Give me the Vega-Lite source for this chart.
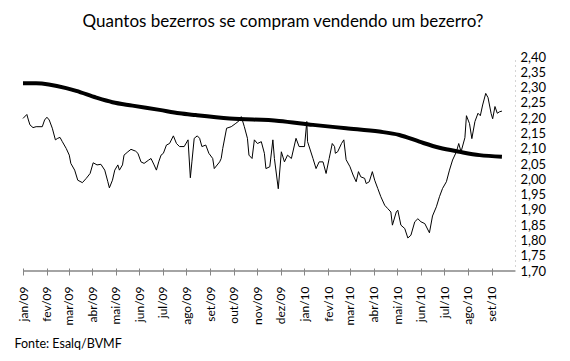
{
  "$schema": "https://vega.github.io/schema/vega-lite/v6.json",
  "width": 492,
  "height": 214,
  "padding": {"left": 14, "top": 13, "right": 5, "bottom": 5},
  "background": "white",
  "title": {"text": "Quantos bezerros se compram vendendo um bezerro?", "font": "Lato", "fontSize": 17, "fontWeight": "normal", "color": "black", "anchor": "middle", "dx": 14, "offset": 20},
  "config": {"view": {"stroke": null}, "font": "Lato"},
  "datasets": {
    "diario": [
      {"d":"2009-01-01","v":2.199},{"d":"2009-01-06","v":2.212},{"d":"2009-01-08","v":2.194},{"d":"2009-01-10","v":2.178},{"d":"2009-01-14","v":2.169},{"d":"2009-01-18","v":2.172},{"d":"2009-01-26","v":2.172},{"d":"2009-01-29","v":2.194},{"d":"2009-02-01","v":2.203},{"d":"2009-02-04","v":2.194},{"d":"2009-02-08","v":2.167},{"d":"2009-02-12","v":2.129},{"d":"2009-02-15","v":2.134},{"d":"2009-02-18","v":2.137},{"d":"2009-02-21","v":2.123},{"d":"2009-02-26","v":2.101},{"d":"2009-03-02","v":2.079},{"d":"2009-03-04","v":2.052},{"d":"2009-03-09","v":2.030},{"d":"2009-03-13","v":1.997},{"d":"2009-03-19","v":1.989},{"d":"2009-03-24","v":2.003},{"d":"2009-03-29","v":2.019},{"d":"2009-04-02","v":2.054},{"d":"2009-04-07","v":2.047},{"d":"2009-04-12","v":2.049},{"d":"2009-04-17","v":2.030},{"d":"2009-04-21","v":1.992},{"d":"2009-04-23","v":1.972},{"d":"2009-04-27","v":1.997},{"d":"2009-04-30","v":2.030},{"d":"2009-05-04","v":2.047},{"d":"2009-05-06","v":2.030},{"d":"2009-05-10","v":2.047},{"d":"2009-05-12","v":2.079},{"d":"2009-05-17","v":2.090},{"d":"2009-05-21","v":2.098},{"d":"2009-05-27","v":2.092},{"d":"2009-05-30","v":2.085},{"d":"2009-06-03","v":2.057},{"d":"2009-06-07","v":2.052},{"d":"2009-06-13","v":2.063},{"d":"2009-06-16","v":2.068},{"d":"2009-06-20","v":2.047},{"d":"2009-06-23","v":2.030},{"d":"2009-06-26","v":2.057},{"d":"2009-06-29","v":2.079},{"d":"2009-07-02","v":2.085},{"d":"2009-07-06","v":2.112},{"d":"2009-07-10","v":2.117},{"d":"2009-07-15","v":2.142},{"d":"2009-07-19","v":2.117},{"d":"2009-07-23","v":2.107},{"d":"2009-07-29","v":2.107},{"d":"2009-08-03","v":2.129},{"d":"2009-08-06","v":2.005},{"d":"2009-08-08","v":2.057},{"d":"2009-08-11","v":2.134},{"d":"2009-08-15","v":2.142},{"d":"2009-08-18","v":2.134},{"d":"2009-08-21","v":2.107},{"d":"2009-08-26","v":2.112},{"d":"2009-08-30","v":2.085},{"d":"2009-09-04","v":2.068},{"d":"2009-09-06","v":2.035},{"d":"2009-09-13","v":2.057},{"d":"2009-09-15","v":2.068},{"d":"2009-09-17","v":2.101},{"d":"2009-09-22","v":2.167},{"d":"2009-09-28","v":2.172},{"d":"2009-10-04","v":2.183},{"d":"2009-10-08","v":2.191},{"d":"2009-10-11","v":2.205},{"d":"2009-10-15","v":2.172},{"d":"2009-10-19","v":2.134},{"d":"2009-10-21","v":2.079},{"d":"2009-10-25","v":2.068},{"d":"2009-10-28","v":2.129},{"d":"2009-11-01","v":2.117},{"d":"2009-11-06","v":2.123},{"d":"2009-11-10","v":2.085},{"d":"2009-11-12","v":2.035},{"d":"2009-11-17","v":2.041},{"d":"2009-11-21","v":2.129},{"d":"2009-11-23","v":2.068},{"d":"2009-11-28","v":1.969},{"d":"2009-12-02","v":2.090},{"d":"2009-12-06","v":2.057},{"d":"2009-12-10","v":2.079},{"d":"2009-12-15","v":2.068},{"d":"2009-12-19","v":2.112},{"d":"2009-12-21","v":2.134},{"d":"2009-12-25","v":2.107},{"d":"2010-01-01","v":2.107},{"d":"2010-01-04","v":2.189},{"d":"2010-01-05","v":2.123},{"d":"2010-01-12","v":2.068},{"d":"2010-01-16","v":2.035},{"d":"2010-01-20","v":2.057},{"d":"2010-01-25","v":2.057},{"d":"2010-01-29","v":2.019},{"d":"2010-02-02","v":2.068},{"d":"2010-02-06","v":2.117},{"d":"2010-02-09","v":2.107},{"d":"2010-02-10","v":2.085},{"d":"2010-02-13","v":2.090},{"d":"2010-02-18","v":2.117},{"d":"2010-02-21","v":2.129},{"d":"2010-02-24","v":2.064},{"d":"2010-03-01","v":2.041},{"d":"2010-03-05","v":2.014},{"d":"2010-03-09","v":1.992},{"d":"2010-03-12","v":2.025},{"d":"2010-03-15","v":2.008},{"d":"2010-03-20","v":2.003},{"d":"2010-03-22","v":1.986},{"d":"2010-03-26","v":1.992},{"d":"2010-03-30","v":2.025},{"d":"2010-04-02","v":1.997},{"d":"2010-04-06","v":1.970},{"d":"2010-04-10","v":1.943},{"d":"2010-04-15","v":1.915},{"d":"2010-04-19","v":1.904},{"d":"2010-04-23","v":1.893},{"d":"2010-04-25","v":1.850},{"d":"2010-04-30","v":1.893},{"d":"2010-05-02","v":1.899},{"d":"2010-05-06","v":1.850},{"d":"2010-05-11","v":1.839},{"d":"2010-05-15","v":1.808},{"d":"2010-05-19","v":1.817},{"d":"2010-05-24","v":1.861},{"d":"2010-05-28","v":1.871},{"d":"2010-06-01","v":1.861},{"d":"2010-06-06","v":1.855},{"d":"2010-06-12","v":1.825},{"d":"2010-06-16","v":1.880},{"d":"2010-06-21","v":1.910},{"d":"2010-06-25","v":1.943},{"d":"2010-06-29","v":1.970},{"d":"2010-07-04","v":1.992},{"d":"2010-07-08","v":2.030},{"d":"2010-07-12","v":2.063},{"d":"2010-07-17","v":2.090},{"d":"2010-07-20","v":2.117},{"d":"2010-07-23","v":2.090},{"d":"2010-07-28","v":2.136},{"d":"2010-07-30","v":2.208},{"d":"2010-08-03","v":2.182},{"d":"2010-08-06","v":2.133},{"d":"2010-08-10","v":2.189},{"d":"2010-08-14","v":2.216},{"d":"2010-08-17","v":2.208},{"d":"2010-08-20","v":2.243},{"d":"2010-08-24","v":2.281},{"d":"2010-08-27","v":2.267},{"d":"2010-08-31","v":2.215},{"d":"2010-09-02","v":2.198},{"d":"2010-09-05","v":2.238},{"d":"2010-09-08","v":2.216},{"d":"2010-09-11","v":2.221},{"d":"2010-09-14","v":2.223}
    ],
    "media": [
      {"d":"2009-01-01","v":2.314},{"d":"2009-01-18","v":2.314},{"d":"2009-02-26","v":2.298},{"d":"2009-03-11","v":2.289},{"d":"2009-04-06","v":2.267},{"d":"2009-04-27","v":2.252},{"d":"2009-05-23","v":2.241},{"d":"2009-06-27","v":2.227},{"d":"2009-07-23","v":2.216},{"d":"2009-08-13","v":2.210},{"d":"2009-09-26","v":2.199},{"d":"2009-11-29","v":2.191},{"d":"2010-01-12","v":2.178},{"d":"2010-02-24","v":2.167},{"d":"2010-04-08","v":2.156},{"d":"2010-05-04","v":2.145},{"d":"2010-05-30","v":2.123},{"d":"2010-06-25","v":2.103},{"d":"2010-07-21","v":2.090},{"d":"2010-08-16","v":2.079},{"d":"2010-09-14","v":2.074}
    ]
  },
  "encoding": {
    "x": {
      "field": "d", "type": "temporal",
      "scale": {"type": "utc", "domain": [{"year": 2009, "month": 1, "date": 1, "utc": true}, {"year": 2010, "month": 9, "date": 30, "hours": 23, "utc": true}]},
      "axis": {
        "title": "Fonte: Esalq/BVMF", "titleAnchor": "start", "titleAlign": "left", "titleBaseline": "alphabetic",
        "titleX": -9, "titleY": 79, "titleFont": "Lato", "titleFontSize": 12.5, "titleFontWeight": "normal", "titleColor": "black",
        "tickCount": {"interval": "month", "step": 1},
        "labelExpr": "['jan','fev','mar','abr','mai','jun','jul','ago','set','out','nov','dez'][utcmonth(datum.value)] + '/' + utcFormat(datum.value, '%y')",
        "labelAngle": -90, "labelAlign": "right", "labelBaseline": "middle", "labelPadding": 11,
        "labelFont": "Lato", "labelFontSize": 12, "labelColor": "black", "labelOverlap": false, "labelBound": false, "labelFlush": false,
        "domain": false, "offset": -3, "tickSize": 7, "tickColor": "#868686", "tickWidth": 1, "grid": false
      }
    },
    "y": {
      "field": "v", "type": "quantitative",
      "scale": {"domain": [1.7, 2.4], "nice": false, "zero": false},
      "axis": {
        "orient": "right", "title": null, "values": [1.7,1.75,1.8,1.85,1.9,1.95,2.0,2.05,2.1,2.15,2.2,2.25,2.3,2.35,2.4],
        "labelExpr": "replace(format(datum.value, '.2f'), '.', ',')",
        "labelFont": "Lato", "labelFontSize": 13, "labelColor": "black", "labelPadding": 5, "labelOverlap": false, "labelBound": false, "labelFlush": false,
        "ticks": false, "grid": false, "domain": true, "domainColor": "#aaaaaa", "domainDash": [1, 4], "domainWidth": 1
      }
    }
  },
  "layer": [
    {
      "data": {"name": "diario"},
      "mark": {"type": "line", "color": "black", "strokeWidth": 1}
    },
    {
      "data": {"name": "media"},
      "mark": {"type": "line", "color": "black", "strokeWidth": 4, "interpolate": "monotone"}
    },
    {
      "data": {"values": [{"base": 1.7}]},
      "mark": {"type": "rule", "color": "#868686", "strokeWidth": 1.5},
      "encoding": {
        "x": null,
        "y": {
          "field": "base", "type": "quantitative",
          "axis": {
            "orient": "right", "title": null, "values": [1.7,1.75,1.8,1.85,1.9,1.95,2.0,2.05,2.1,2.15,2.2,2.25,2.3,2.35,2.4],
            "labelExpr": "replace(format(datum.value, '.2f'), '.', ',')",
            "labelFont": "Lato", "labelFontSize": 13, "labelColor": "black", "labelPadding": 5, "labelOverlap": false, "labelBound": false, "labelFlush": false,
            "ticks": false, "grid": false, "domain": true, "domainColor": "#aaaaaa", "domainDash": [1, 4], "domainWidth": 1
          }
        }
      }
    }
  ]
}
